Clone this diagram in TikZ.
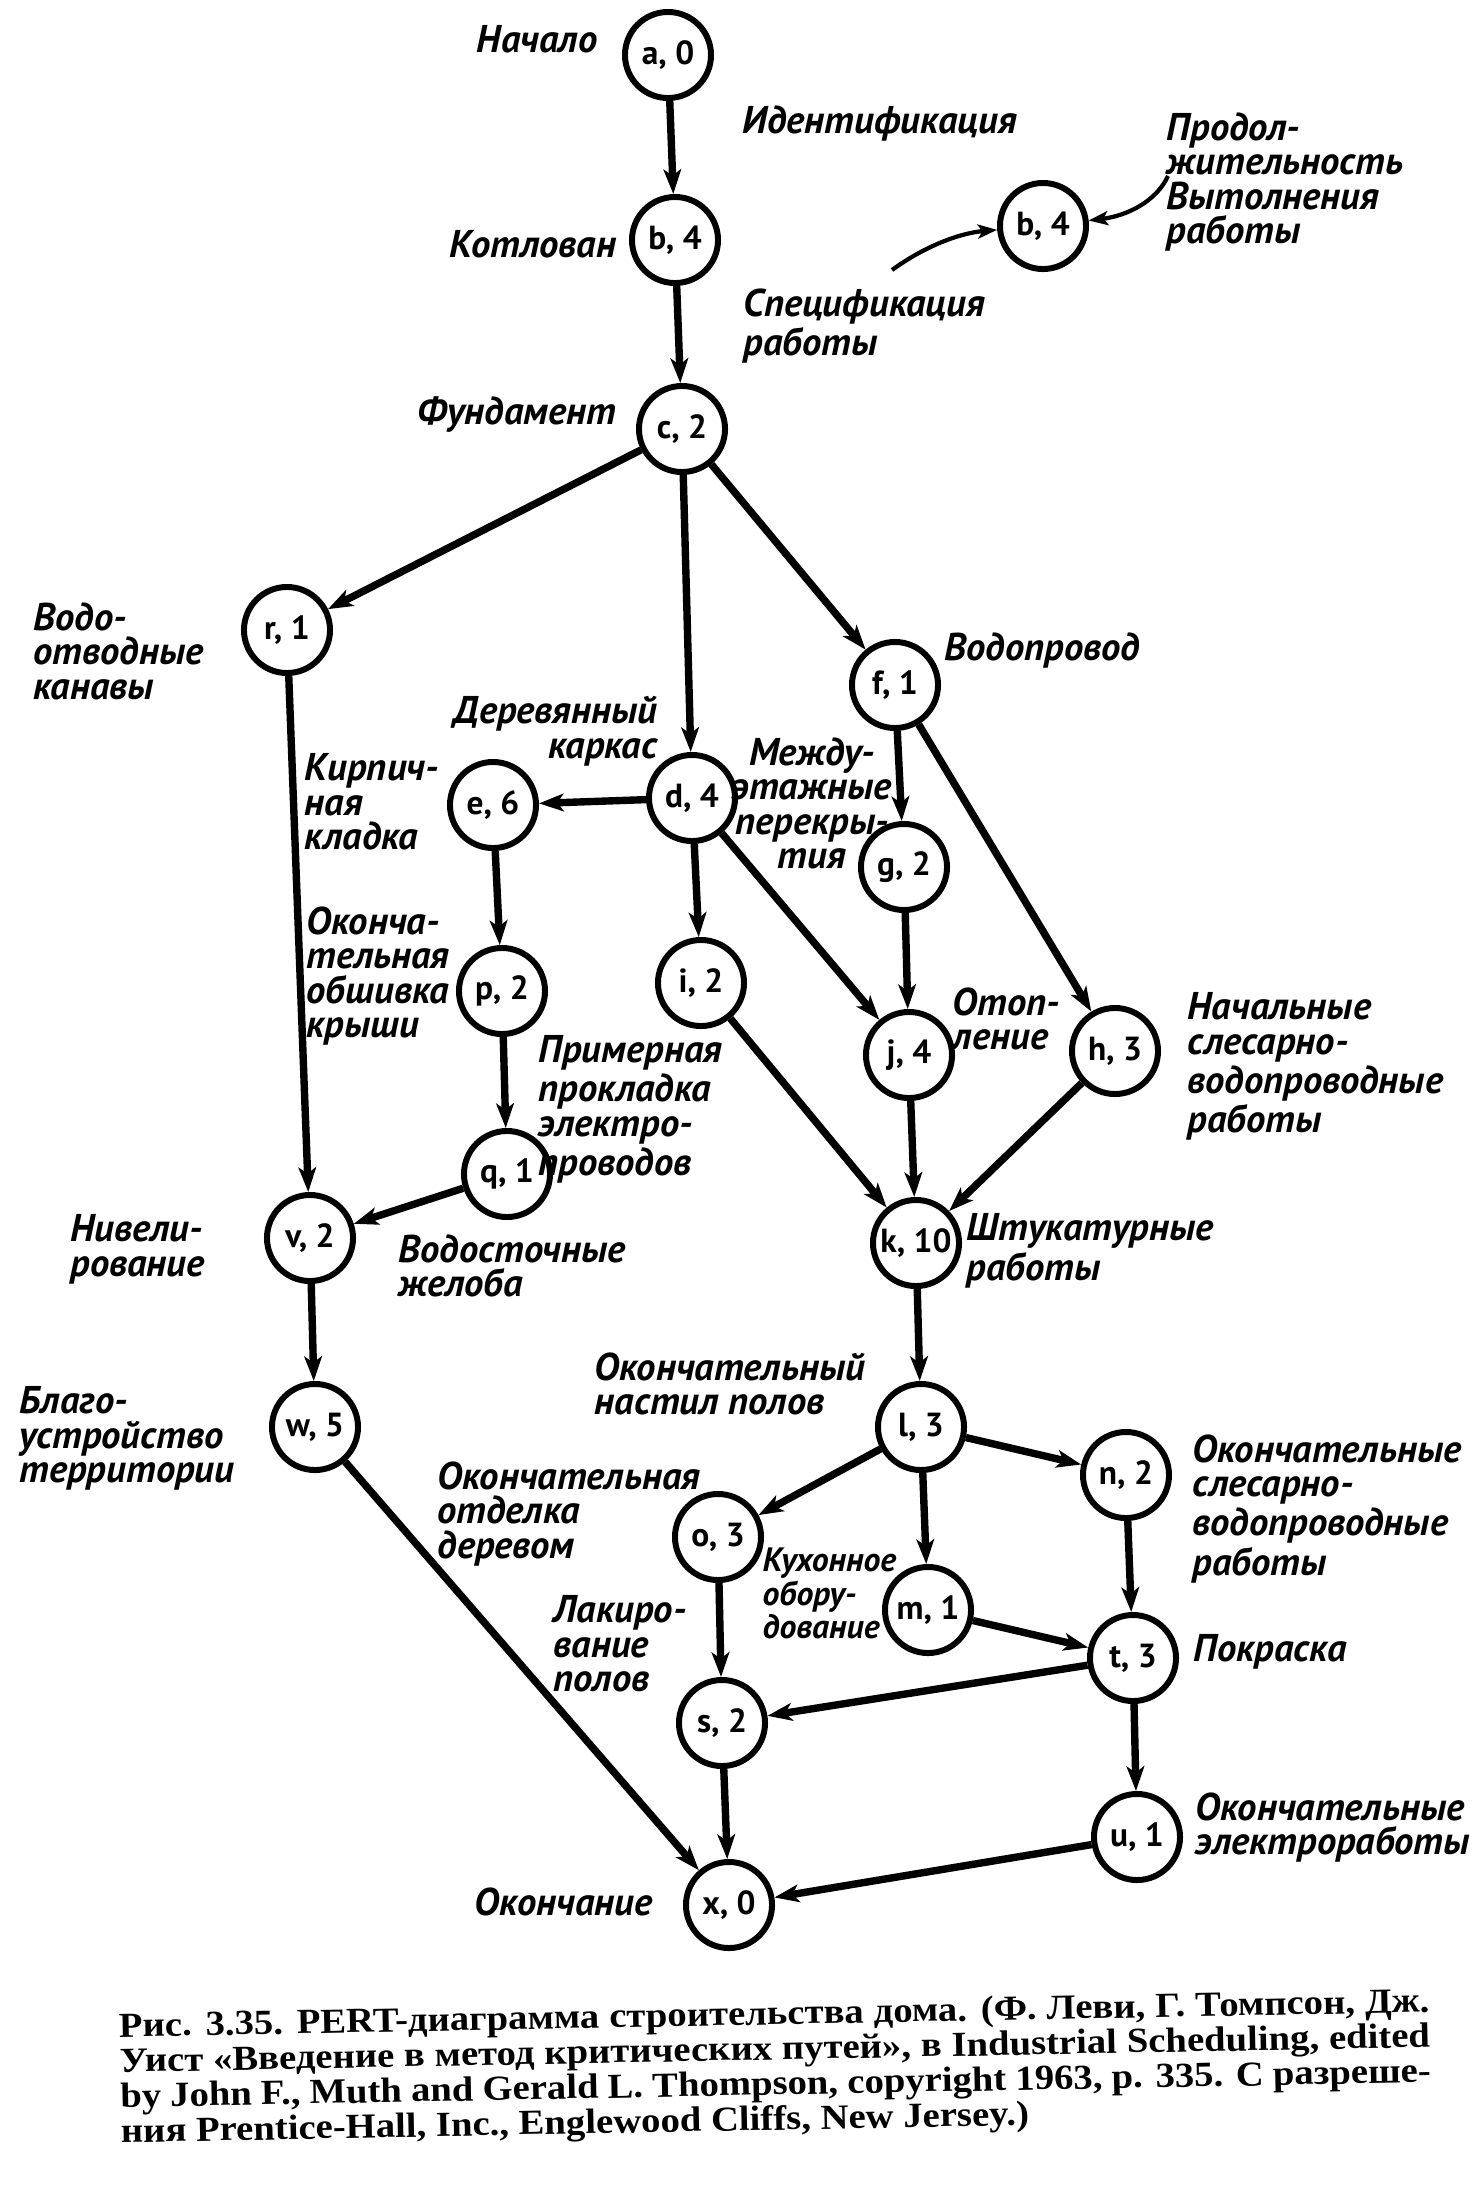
\documentclass[tikz,border=0pt]{standalone}
\usepackage{fontspec}
\setmainfont{Liberation Serif}
\newfontfamily\lblfont{PT Sans}
\newfontfamily\capfont[FakeStretch=1.1]{Liberation Serif}
\usetikzlibrary{arrows.meta}

\tikzset{
  event/.style={draw,circle,line width=1.7pt,minimum size=0.86cm,inner sep=0pt,
    font=\lblfont\bfseries\fontsize{9.5}{10}\selectfont},
  work/.style={line width=2.1pt,-{Stealth[length=7pt,width=5pt,inset=1.8pt]}},
  keyarrow/.style={line width=1.2pt,-{Stealth[length=5.5pt,width=4pt,inset=1.3pt]}},
  lbl/.style={inner sep=0pt,align=left,
    font=\lblfont\bfseries\itshape\fontsize{11}{9.8}\selectfont},
  caption/.style={inner sep=0pt,align=left,font=\capfont\bfseries\fontsize{10}{10}\selectfont},
}
\newcommand{\capline}[1]{\makebox[13.1cm][s]{#1}}

\begin{document}
\begin{tikzpicture}[x=0.01cm,y=-0.01cm]
\useasboundingbox[fill=white] (0,0) rectangle (1476,2187);

% events
\node[event] (a) at (668,55) {a, 0};
\node[event] (b) at (675,240) {b, 4};
\node[event] (c) at (682,429) {c, 2};
\node[event] (r) at (287,630) {r, 1};
\node[event] (f) at (895,685) {f, 1};
\node[event] (d) at (692,798) {d, 4};
\node[event] (e) at (493,805) {e, 6};
\node[event] (g) at (904,867) {g, 2};
\node[event] (p) at (502,991) {p, 2};
\node[event] (i) at (701,983) {i, 2};
\node[event] (j) at (909,1055) {j, 4};
\node[event] (h) at (1115,1051) {h, 3};
\node[event] (q) at (507,1174) {q, 1};
\node[event] (v) at (310,1238) {v, 2};
\node[event] (k) at (916,1243) {k, 10};
\node[event] (w) at (315,1427) {w, 5};
\node[event] (l) at (921,1427) {l, 3};
\node[event] (n) at (1126,1475) {n, 2};
\node[event] (o) at (718,1537) {o, 3};
\node[event] (m) at (928,1610) {m, 1};
\node[event] (t) at (1133,1658) {t, 3};
\node[event] (s) at (722,1723) {s, 2};
\node[event] (u) at (1137,1837) {u, 1};
\node[event] (x) at (729,1905) {x, 0};

% works
\draw[work] (a) -- (b);
\draw[work] (b) -- (c);
\draw[work] (c) -- (r);
\draw[work] (c) -- (d);
\draw[work] (c) -- (f);
\draw[work] (r) -- (v);
\draw[work] (d) -- (e);
\draw[work] (d) -- (i);
\draw[work] (d) -- (j);
\draw[work] (e) -- (p);
\draw[work] (p) -- (q);
\draw[work] (q) -- (v);
\draw[work] (f) -- (g);
\draw[work] (f) -- (h);
\draw[work] (g) -- (j);
\draw[work] (i) -- (k);
\draw[work] (j) -- (k);
\draw[work] (h) -- (k);
\draw[work] (v) -- (w);
\draw[work] (w) -- (x);
\draw[work] (k) -- (l);
\draw[work] (l) -- (o);
\draw[work] (l) -- (m);
\draw[work] (l) -- (n);
\draw[work] (o) -- (s);
\draw[work] (m) -- (t);
\draw[work] (n) -- (t);
\draw[work] (t) -- (s);
\draw[work] (t) -- (u);
\draw[work] (s) -- (x);
\draw[work] (u) -- (x);

% key
\node[event] (bkey) at (1043,226) {b, 4};
\coordinate (speckey) at (892,270);
\coordinate (durkey) at (1168,176);
\draw[keyarrow] (speckey) .. controls (925,246) and (960,233) .. (bkey);
\draw[keyarrow] (durkey) .. controls (1156,202) and (1126,216) .. (bkey);

% labels
\node[lbl,anchor=base east] (la) at (598,52) {Начало};
\node[lbl,anchor=base west] (lab) at (742,133) {Идентификация};
\node[lbl,anchor=base east] (lb) at (617,257) {Котлован};
\node[lbl,anchor=north west] (lspec) at (743,288) {Спецификация\\работы};
\node[lbl,anchor=north west] (ldur) at (1166,112) {Продол-\\жительность\\Вытолнения\\работы};
\node[lbl,anchor=base east] (lc) at (617,424) {Фундамент};
\node[lbl,anchor=north west] (lcr) at (33,602) {Водо-\\отводные\\канавы};
\node[lbl,anchor=base west] (lcf) at (944,660) {Водопровод};
\node[lbl,anchor=north east,align=right] (lcd) at (658,696) {Деревянный\\каркас};
\node[lbl,anchor=north west] (lrv) at (304,753) {Кирпич-\\ная\\кладка};
\node[lbl,anchor=north,align=center] (ldj) at (812,737) {Между-\\этажные\\перекры-\\тия};
\node[lbl,anchor=north west] (lep) at (306,906) {Оконча-\\тельная\\обшивка\\крыши};
\node[lbl,anchor=north west] (lpq) at (538,1035) {Примерная\\прокладка\\электро-\\проводов};
\node[lbl,anchor=north west] (lgj) at (952,987) {Отоп-\\ление};
\node[lbl,anchor=north west] (lfh) at (1187,992) {Начальные\\слесарно-\\водопроводные\\работы};
\node[lbl,anchor=north west] (lvw) at (70,1214) {Нивели-\\рование};
\node[lbl,anchor=north west] (lqv) at (398,1234) {Водосточные\\желоба};
\node[lbl,anchor=north west] (lkl) at (966,1213) {Штукатурные\\работы};
\node[lbl,anchor=north west] (llo) at (594,1352) {Окончательный\\настил полов};
\node[lbl,anchor=north west] (lwx) at (19,1386) {Благо-\\устройство\\территории};
\node[lbl,anchor=north west] (los) at (437,1461) {Окончательная\\отделка\\деревом};
\node[lbl,anchor=north west] (lnt) at (1192,1434) {Окончательные\\слесарно-\\водопроводные\\работы};
\node[lbl,anchor=north west,font=\lblfont\bfseries\itshape\fontsize{9.6}{9.6}\selectfont] (llm) at (762,1547) {Кухонное\\обору-\\дование};
\node[lbl,anchor=north west] (lsx) at (553,1595) {Лакиро-\\вание\\полов};
\node[lbl,anchor=west] (lts) at (1193,1652) {Покраска};
\node[lbl,anchor=north west] (lux) at (1195,1792) {Окончательные\\электроработы};
\node[lbl,anchor=base east] (lx) at (653,1915) {Окончание};

% caption
\node[caption,anchor=north west,rotate=1.1] (cap) at (118,2012) {%
\capline{Рис. 3.35. PERT-диаграмма строительства дома. (Ф. Леви, Г. Томпсон, Дж.}\\
\capline{Уист «Введение в метод критических путей», в Industrial Scheduling, edited}\\
\capline{by John F., Muth and Gerald L. Thompson, copyright 1963, p. 335. С разреше-}\\
ния Prentice-Hall, Inc., Englewood Cliffs, New Jersey.)};
\end{tikzpicture}
\end{document}
